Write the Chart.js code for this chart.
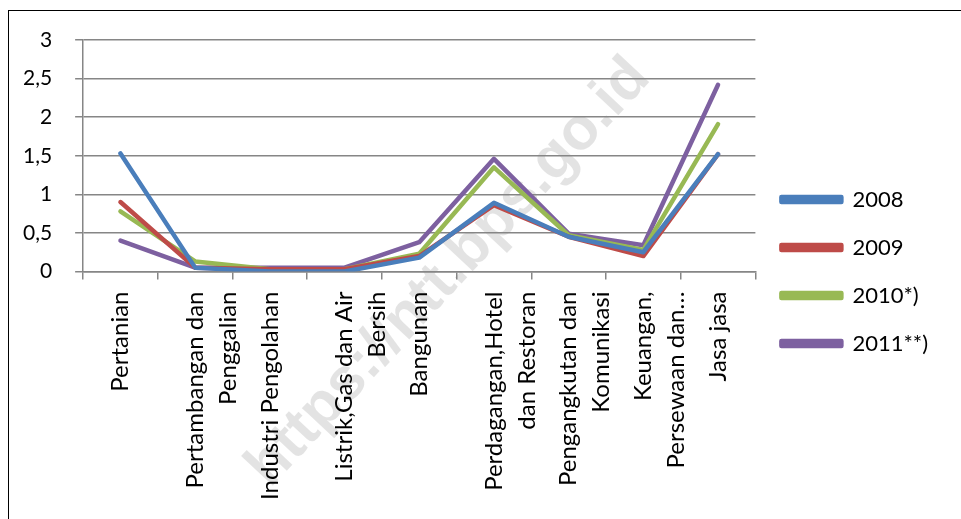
<!DOCTYPE html>
<html>
<head>
<meta charset="utf-8">
<script src="https://cdn.jsdelivr.net/npm/chart.js@4/dist/chart.umd.min.js"></script>
<style>
  body { margin: 0; background: #fff; overflow: hidden; }
  #frame {
    position: absolute; left: 8px; top: 10px; width: 1000px; height: 600px;
    border: 1px solid #000;
  }
  #wm {
    position: absolute; left: 446px; top: 270px;
    transform: translate(-50%, -50%) rotate(-47deg);
    font: bold 60px "Liberation Sans", Arial, sans-serif;
    color: rgba(0, 0, 0, 0.11); white-space: nowrap;
  }
  #chart { position: absolute; left: 0; top: 0; }
</style>
</head>
<body>
<div id="frame"></div>
<div id="wm">https://ntt.bps.go.id</div>
<canvas id="chart" width="961" height="519"></canvas>
<script>
// Sectors (x axis)
const categories = [
  ["Pertanian"],
  ["Pertambangan dan", "Penggalian"],
  ["Industri Pengolahan"],
  ["Listrik,Gas dan Air", "Bersih"],
  ["Bangunan"],
  ["Perdagangan,Hotel", "dan Restoran"],
  ["Pengangkutan dan", "Komunikasi"],
  ["Keuangan,", "Persewaan dan…"],
  ["Jasa jasa"]
];

// Series values
const v2008 = [1.53, 0.05, 0.0, 0.0, 0.18, 0.89, 0.45, 0.25, 1.52];
const v2009 = [0.9, 0.05, 0.03, 0.03, 0.2, 0.86, 0.45, 0.2, 1.52];
const v2010 = [0.78, 0.13, 0.03, 0.03, 0.23, 1.35, 0.47, 0.28, 1.91];
const v2011 = [0.4, 0.05, 0.05, 0.05, 0.38, 1.46, 0.49, 0.34, 2.42];

const seriesNames = ["2008", "2009", "2010*)", "2011**)"];
const seriesColors = ["#4a7ebb", "#be4b48", "#98b954", "#7d60a0"];
const yTicks = [0, 0.5, 1, 1.5, 2, 2.5, 3];

const gridColor = "#868686";
const fontFamily = "Lato, 'Open Sans', sans-serif";

const datasets = [v2008, v2009, v2010, v2011].map((data, i) => ({
  label: seriesNames[i],
  data: data,
  borderColor: seriesColors[i],
  backgroundColor: seriesColors[i],
  borderWidth: 4.5,
  pointRadius: 0,
  tension: 0,
  borderCapStyle: "round",
  borderJoinStyle: "round"
}));

new Chart(document.getElementById("chart"), {
  type: "line",
  data: { labels: categories, datasets: datasets },
  options: {
    responsive: false,
    animation: false,
    layout: { padding: { top: 40, left: 0, right: 23, bottom: 16 } },
    plugins: {
      tooltip: { enabled: false },
      legend: {
        position: "right",
        labels: {
          boxWidth: 60,
          boxHeight: 5,
          padding: 26,
          color: "#000",
          font: { family: fontFamily, size: 22 }
        }
      }
    },
    scales: {
      x: {
        offset: true,
        grid: {
          offset: true,
          drawOnChartArea: false,
          tickLength: 8,
          color: gridColor,
          lineWidth: 1.5
        },
        border: { color: gridColor, width: 1.5 },
        ticks: {
          autoSkip: false,
          maxRotation: 90,
          minRotation: 90,
          padding: 12,
          color: "#000",
          font: { family: fontFamily, size: 24, lineHeight: 1.375 }
        }
      },
      y: {
        min: 0,
        max: 3,
        afterBuildTicks: (axis) => {
          axis.ticks = yTicks.map((v) => ({ value: v }));
        },
        grid: { color: gridColor, lineWidth: 1.5, tickLength: 8 },
        border: { color: gridColor, width: 1.5 },
        ticks: {
          color: "#000",
          padding: 23,
          font: { family: fontFamily, size: 21 },
          callback: (v) => String(v).replace(".", ",")
        }
      }
    }
  }
});
</script>
</body>
</html>
